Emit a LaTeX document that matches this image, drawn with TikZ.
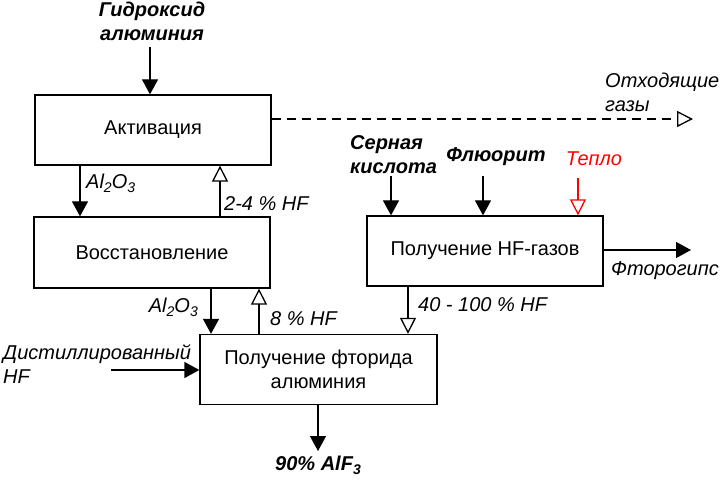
\documentclass[tikz,border=0pt]{standalone}
\usepackage{fontspec}
\setmainfont{Liberation Sans}
\usetikzlibrary{arrows.meta}
\newcommand{\lowidx}[1]{\raisebox{-0.35ex}{\fontsize{14}{14}\selectfont #1}}
\begin{document}
\begin{tikzpicture}[x=1pt,y=-1pt,
  font=\fontsize{20}{24}\selectfont,
  box/.style={draw,line width=1.3pt,minimum width=236pt,minimum height=70pt,inner sep=0pt,align=center},
  lbl/.style={font=\fontsize{20}{24}\selectfont\itshape,inner sep=0pt},
  blbl/.style={font=\fontsize{20}{24}\selectfont\bfseries\itshape,inner sep=0pt},
  arr/.style={line width=1.3pt,-{Triangle[width=16pt,length=15pt]}},
  oarr/.style={line width=1.3pt,-{Triangle[open,width=16pt,length=16pt,line width=1.3pt]}},
]
\useasboundingbox (0,0) rectangle (720,481);
% boxes
\node[box] (act) at (153,130) {Активация};
\node[box,minimum height=71pt] (red) at (152,252.5) {Восстановление};
\node[box,minimum width=237pt] (fl) at (318.5,369.5) {Получение фторида\\алюминия};
\node[box] (hf) at (485,251) {Получение HF-газов};
% text labels
\node[blbl,align=center] (hydro) at (152,21) {Гидроксид\\алюминия};
\node[lbl,align=left,anchor=west] (exh) at (605,92) {Отходящие\\газы};
\node[blbl,align=left,anchor=west] (sulf) at (350,155) {Серная\\кислота};
\node[blbl] (flu) at (496,157) {Флюорит};
\node[lbl,text=red] (heat) at (594,159) {Тепло};
\node[lbl] (gyp) at (665,271) {Фторогипс};
\node[lbl,align=left,anchor=west] (dist) at (3,364) {Дистиллированный\\HF};
\node[blbl] (alf) at (318,465) {90\% AlF\lowidx{3}};
\node[lbl,anchor=west] (al1) at (86,183) {Al\lowidx{2}O\lowidx{3}};
\node[lbl,anchor=west] (hf24) at (224,204) {2-4 \% HF};
\node[lbl,anchor=east] (al2) at (198,307) {Al\lowidx{2}O\lowidx{3}};
\node[lbl,anchor=west] (hf8) at (270,319) {8 \% HF};
\node[lbl,anchor=west] (hf40) at (418,305) {40 - 100 \% HF};
% free ends
\coordinate (hydroS) at (150,47);
\coordinate (exE) at (693,119);
\coordinate (sulfS) at (391,176);
\coordinate (fluS) at (483,176);
\coordinate (heatS) at (578,178);
\coordinate (gypE) at (691,250);
\coordinate (distS) at (111,370);
\coordinate (alfE) at (318,451);
\coordinate (x1) at (80,0);
\coordinate (x2) at (220,0);
\coordinate (x3) at (211,0);
\coordinate (x4) at (259,0);
\coordinate (x5) at (408,0);
% connectors
\draw[arr] (hydroS) -- (hydroS |- act.north);
\draw[arr] (act.south -| x1) -- (red.north -| x1);
\draw[oarr] (red.north -| x2) -- (act.south -| x2);
\draw[oarr,dash pattern=on 9pt off 6pt] (act.east |- exE) -- (exE);
\draw[arr] (sulfS) -- (sulfS |- hf.north);
\draw[arr] (fluS) -- (fluS |- hf.north);
\draw[oarr,red] (heatS) -- (heatS |- hf.north);
\draw[arr] (hf.east |- gypE) -- (gypE);
\draw[oarr] (hf.south -| x5) -- (fl.north -| x5);
\draw[arr] (red.south -| x3) -- (fl.north -| x3);
\draw[oarr] (fl.north -| x4) -- (red.south -| x4);
\draw[arr] (distS) -- (fl.west |- distS);
\draw[arr] (fl.south -| alfE) -- (alfE);
\end{tikzpicture}
\end{document}
